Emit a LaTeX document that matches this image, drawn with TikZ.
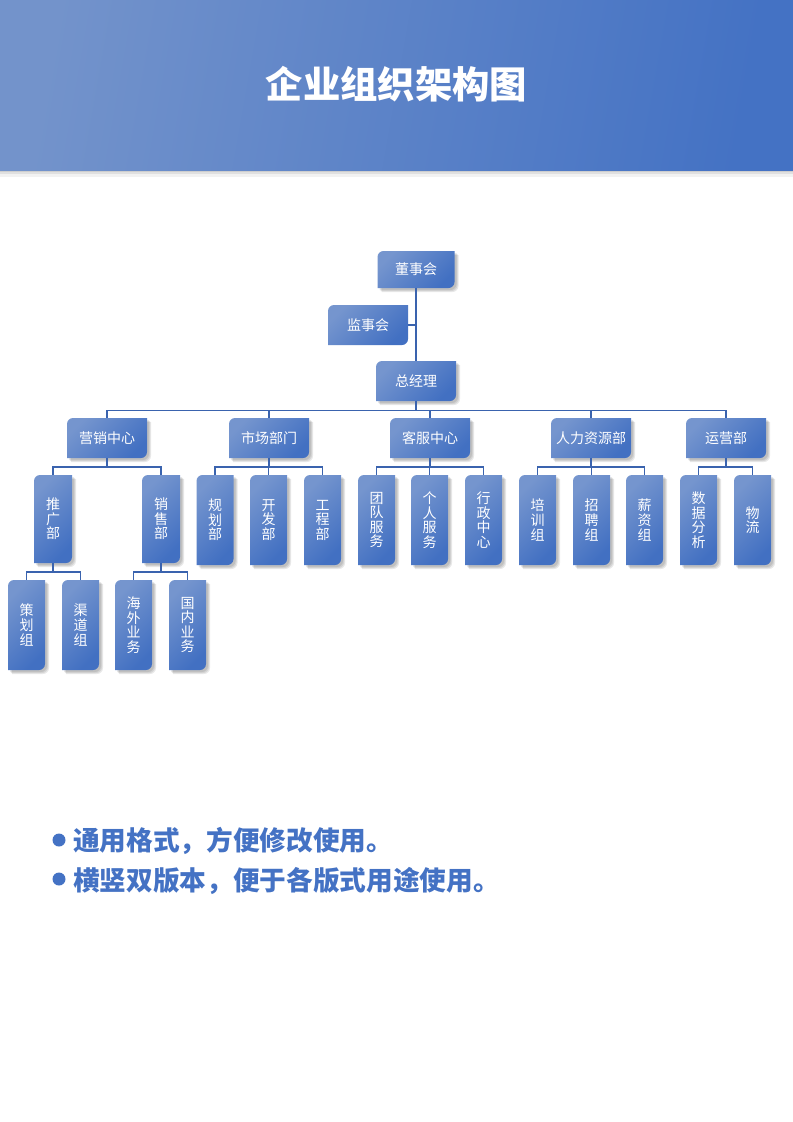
\documentclass[tikz,border=0pt]{standalone}
\usepackage{fontspec}
\newfontfamily\cjk{Noto Sans CJK SC}
\definecolor{hdlight}{HTML}{7393CB}
\definecolor{hddark}{HTML}{4472C4}
\definecolor{bxlight}{HTML}{7595CE}
\definecolor{bxdark}{HTML}{4270C2}
\definecolor{linecol}{HTML}{3A63AE}
\definecolor{txtblue}{HTML}{4472C4}
\tikzset{
  conn/.style={draw=linecol, line width=0.9pt},
  boxshade/.style={top color=bxlight, bottom color=bxdark, shading angle=45},
  boxtext/.style={inner sep=0pt, outer sep=0pt, text=white, align=center,
    font=\cjk\fontsize{10.5}{10.9}\selectfont},
  shadowfill/.style={fill=black, opacity=0.09},
  notetext/.style={anchor=west, inner sep=0pt, text=txtblue, font=\cjk\bfseries\fontsize{20}{22}\selectfont},
}
\def\rr{6}
\newcommand\rdpath[4]{(#1,#2+\rr) .. controls (#1,#2+0.45*\rr) and (#1+0.45*\rr,#2) .. (#1+\rr,#2)
  -- (#3,#2) -- (#3,#4-\rr) .. controls (#3,#4-0.45*\rr) and (#3-0.45*\rr,#4) .. (#3-\rr,#4)
  -- (#1,#4) -- cycle}
\newcommand\boxcoords[4]{%
  \pgfmathsetmacro\xa{#1-#3/2}\pgfmathsetmacro\xb{#1+#3/2}%
  \pgfmathsetmacro\ya{#2-#4/2}\pgfmathsetmacro\yb{#2+#4/2}}
% name, cx, cy, w, h, text
\newcommand\orgbox[6]{%
  \boxcoords{#2}{#3}{#4}{#5}%
  \fill[shadowfill, shift={(4,4)}] \rdpath{\xa}{\ya}{\xb}{\yb};
  \fill[shadowfill, shift={(3,3)}] \rdpath{\xa}{\ya}{\xb}{\yb};
  \fill[shadowfill, shift={(2,2)}] \rdpath{\xa}{\ya}{\xb}{\yb};
  \shade[boxshade] \rdpath{\xa}{\ya}{\xb}{\yb};
  \node[boxtext, minimum width=#4*0.75pt, minimum height=#5*0.75pt] (#1) at (#2,#3) {#6};
}
\newcommand\orgboxflat[6]{%
  \boxcoords{#2}{#3}{#4}{#5}%
  \shade[boxshade] \rdpath{\xa}{\ya}{\xb}{\yb};
  \node[boxtext, minimum width=#4*0.75pt, minimum height=#5*0.75pt] (#1) at (#2,#3) {#6};
}
\begin{document}
\begin{tikzpicture}[x=0.75pt, y=-0.75pt]
\useasboundingbox (0,0) rectangle (793,1122);
\fill[white] (0,0) rectangle (793,1122);
% header
\fill[black, opacity=0.05] (0,170) rectangle (793,177);
\fill[black, opacity=0.07] (0,170) rectangle (793,174);
\fill[black, opacity=0.08] (0,170) rectangle (793,172);
\shade[top color=hdlight, bottom color=hddark, shading angle=80] (0,0) rectangle (793,170);
\node[text=white, font=\cjk\bfseries\fontsize{28}{30}\selectfont] (title) at (396.5,84) {企业组织架构图};

% level 1
\orgbox{dsh}{416}{269.5}{77}{37}{董事会}
\orgboxflat{jsh}{368}{325}{80}{40}{监事会}
\orgbox{zjl}{416}{381}{80}{40}{总经理}
% level 2
\orgbox{yx}{107}{438}{80}{40}{营销中心}
\orgbox{sc}{269}{438}{80}{40}{市场部门}
\orgbox{kf}{430}{438}{80}{40}{客服中心}
\orgbox{rl}{591}{438}{80}{40}{人力资源部}
\orgbox{yy}{726}{438}{80}{40}{运营部}
% level 3
\orgbox{tg}{53}{519}{38}{88}{推\\广\\部}
\orgbox{xs}{161}{519}{38}{88}{销\\售\\部}
\orgbox{gh}{215}{520}{37}{90}{规\\划\\部}
\orgbox{kfb}{268.5}{520}{37}{90}{开\\发\\部}
\orgbox{gc}{322.5}{520}{37}{90}{工\\程\\部}
\orgbox{td}{376.5}{520}{37}{90}{团\\队\\服\\务}
\orgbox{gr}{429.5}{520}{37}{90}{个\\人\\服\\务}
\orgbox{xz}{483.5}{520}{37}{90}{行\\政\\中\\心}
\orgbox{px}{537.5}{520}{37}{90}{培\\训\\组}
\orgbox{zp}{591.5}{520}{37}{90}{招\\聘\\组}
\orgbox{xzz}{644.5}{520}{37}{90}{薪\\资\\组}
\orgbox{sj}{698.5}{520}{37}{90}{数\\据\\分\\析}
\orgbox{wl}{752.5}{520}{37}{90}{物\\流}
% level 4
\orgbox{ch}{26.5}{625}{37}{90}{策\\划\\组}
\orgbox{qd}{80.5}{625}{37}{90}{渠\\道\\组}
\orgbox{hw}{133.5}{625}{37}{90}{海\\外\\业\\务}
\orgbox{gn}{187.5}{625}{37}{90}{国\\内\\业\\务}

% connectors
\draw[conn] (dsh.south) -- (zjl.north);
\draw[conn] (jsh.east) -- (jsh.east -| dsh.south);
\foreach \c in {yx,sc,kf,rl,yy}{\draw[conn] (zjl.south) -- ++(0,9.5) -| (\c.north);}
\foreach \c in {tg,xs}{\draw[conn] (yx.south) -- ++(0,9) -| (\c.north);}
\foreach \c in {gh,kfb,gc}{\draw[conn] (sc.south) -- ++(0,9) -| (\c.north);}
\foreach \c in {td,gr,xz}{\draw[conn] (kf.south) -- ++(0,9) -| (\c.north);}
\foreach \c in {px,zp,xzz}{\draw[conn] (rl.south) -- ++(0,9) -| (\c.north);}
\foreach \c in {sj,wl}{\draw[conn] (yy.south) -- ++(0,9) -| (\c.north);}
\foreach \c in {ch,qd}{\draw[conn] (tg.south) -- ++(0,9) -| (\c.north);}
\foreach \c in {hw,gn}{\draw[conn] (xs.south) -- ++(0,9) -| (\c.north);}

% notes
\fill[txtblue] (59,840) circle[radius=6.5];
\fill[txtblue] (59,879) circle[radius=6.5];
\node[notetext] (n1) at (73,841) {通用格式，方便修改使用。};
\node[notetext] (n2) at (73,881) {横竖双版本，便于各版式用途使用。};
\end{tikzpicture}
\end{document}
